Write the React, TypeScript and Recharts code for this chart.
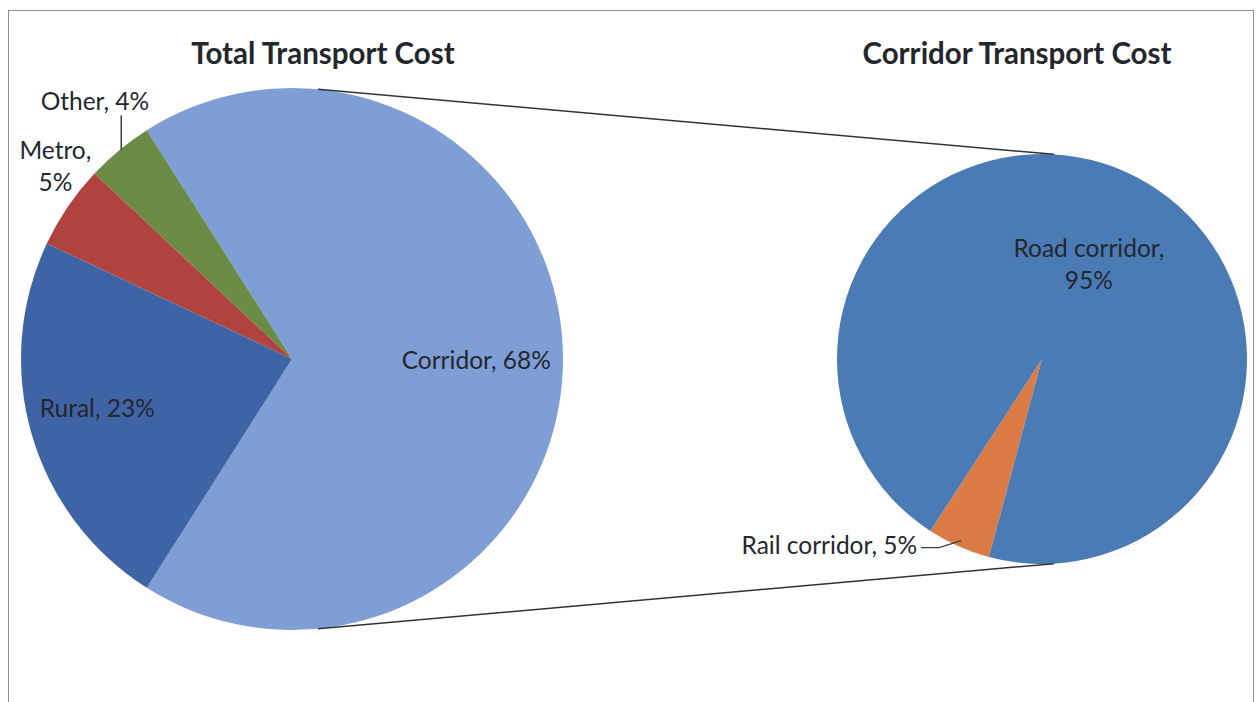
import React from 'react';
import { PieChart, Pie, Cell } from 'recharts';

// ---- data ----
const totalCategories = ['Corridor', 'Other', 'Metro', 'Rural'];
const totalValues = [68, 4, 5, 23];
const corridorCategories = ['Rail corridor', 'Road corridor'];
const corridorValues = [5, 95];
const titles = ['Total Transport Cost', 'Corridor Transport Cost'];

const totalColors = ['#7f9ed6', '#6b8c47', '#b1433e', '#3f64a6'];
const corridorColors = ['#da7a45', '#4a7bb5'];

const totalData = totalCategories.map((name, i) => ({ name, value: totalValues[i] }));
const corridorData = corridorCategories.map((name, i) => ({ name, value: corridorValues[i] }));

// ---- layout ----
const W = 1260;
const H = 702;
const P1 = { cx: 292, cy: 359, r: 271, start: 237.6 };
const P2 = { cx: 1042, cy: 359, r: 205, start: 237 };
const FONT = 'Lato, "Open Sans", sans-serif';
const LABEL_SIZE = 24.5;
const TITLE_SIZE = 29.5;
const RAD = Math.PI / 180;

const polar = (cx: number, cy: number, r: number, a: number) => ({
  x: cx + r * Math.cos(a * RAD),
  y: cy - r * Math.sin(a * RAD),
});

// label placement: radius factor and absolute angle (degrees) around pie centre
const totalLabelPos: Record<string, { rf: number; a: number; anchor: string; lines: number }> = {
  Corridor: { rf: 0.68, a: 0, anchor: 'middle', lines: 1 },
  Rural: { rf: 0.74, a: 193.8, anchor: 'middle', lines: 1 },
  Metro: { rf: 1.13, a: 140.6, anchor: 'middle', lines: 2 },
  Other: { rf: 1.2, a: 127.3, anchor: 'middle', lines: 1 },
};
const corridorLabelPos: Record<string, { rf: number; a: number; anchor: string; lines: number }> = {
  'Road corridor': { rf: 0.52, a: 63.9, anchor: 'middle', lines: 2 },
  'Rail corridor': { rf: 1.0, a: 237, anchor: 'end', lines: 1 },
};

const renderLabel = (pos: typeof totalLabelPos, pie: typeof P1) => (props: any) => {
  const { name, value, midAngle } = props;
  const cfg = pos[name];
  if (!cfg) return null;
  const p = polar(pie.cx, pie.cy, pie.r * cfg.rf, cfg.a);
  const color = '#23272e';
  const lines = cfg.lines === 2 ? [`${name},`, `${value}%`] : [`${name}, ${value}%`];
  const lh = 32;
  const extras: React.ReactNode[] = [];
  let tx = p.x;
  let ty = p.y;
  if (name === 'Other') {
    const e = polar(pie.cx, pie.cy, pie.r, midAngle);
    extras.push(
      <line key="l" x1={e.x + 2} y1={e.y} x2={e.x + 2} y2={p.y + 15} stroke="#3a3f47" strokeWidth={1.5} />
    );
  }
  if (name === 'Rail corridor') {
    const e = polar(pie.cx, pie.cy, pie.r * 0.97, midAngle);
    const bx = e.x - 22;
    const by = e.y + 7;
    extras.push(
      <polyline key="l" points={`${e.x},${e.y} ${bx},${by} ${bx - 18},${by}`} fill="none" stroke="#3a3f47" strokeWidth={1.3} />
    );
    tx = bx - 22;
    ty = by - 4;
  }
  return (
    <g>
      {extras}
      <text
        x={tx}
        y={ty - ((lines.length - 1) * lh) / 2}
        textAnchor={cfg.anchor as any}
        fill={color}
        fontFamily={FONT}
        fontSize={LABEL_SIZE}
        dominantBaseline="central"
      >
        {lines.map((t, i) => (
          <tspan key={i} x={tx} dy={i === 0 ? 0 : lh}>
            {t}
          </tspan>
        ))}
      </text>
    </g>
  );
};

const CONNECT_L = 84.5;
const CONNECT_R = 86.7;

export default function App() {
  const lt = polar(P1.cx, P1.cy, P1.r, CONNECT_L);
  const lb = polar(P1.cx, P1.cy, P1.r, -CONNECT_L);
  const rt = polar(P2.cx, P2.cy, P2.r, CONNECT_R);
  const rb = polar(P2.cx, P2.cy, P2.r, -CONNECT_R);
  return (
    <div style={{ position: 'absolute', left: 0, top: 0, width: W, height: H, background: '#fff', overflow: 'hidden' }}>
      <div
        style={{
          position: 'absolute',
          left: 8,
          top: 10,
          width: 1246,
          height: 720,
          border: '1.5px solid #8a8d93',
          boxSizing: 'border-box',
        }}
      />
      <div style={{ position: 'absolute', left: 0, top: 0 }}>
        <PieChart width={W} height={H} margin={{ top: 0, right: 0, bottom: 0, left: 0 }}>
          <Pie
            data={totalData}
            dataKey="value"
            nameKey="name"
            cx={P1.cx}
            cy={P1.cy}
            outerRadius={P1.r}
            startAngle={P1.start}
            endAngle={P1.start + 360}
            stroke="none"
            isAnimationActive={false}
            labelLine={false}
            label={renderLabel(totalLabelPos, P1)}
          >
            {totalData.map((d, i) => (
              <Cell key={d.name} fill={totalColors[i]} />
            ))}
          </Pie>
          <Pie
            data={corridorData}
            dataKey="value"
            nameKey="name"
            cx={P2.cx}
            cy={P2.cy}
            outerRadius={P2.r}
            startAngle={P2.start}
            endAngle={P2.start + 360}
            stroke="none"
            isAnimationActive={false}
            labelLine={false}
            label={renderLabel(corridorLabelPos, P2)}
          >
            {corridorData.map((d, i) => (
              <Cell key={d.name} fill={corridorColors[i]} />
            ))}
          </Pie>
        </PieChart>
      </div>
      <svg width={W} height={H} style={{ position: 'absolute', left: 0, top: 0, pointerEvents: 'none' }}>
        <line x1={lt.x} y1={lt.y} x2={rt.x} y2={rt.y} stroke="#2f3238" strokeWidth={1.5} />
        <line x1={lb.x} y1={lb.y} x2={rb.x} y2={rb.y} stroke="#2f3238" strokeWidth={1.5} />
        <text x={323} y={52} textAnchor="middle" dominantBaseline="central" fontFamily={FONT} fontWeight={700} fontSize={TITLE_SIZE} fill="#23262b">
          {titles[0]}
        </text>
        <text x={1017} y={52} textAnchor="middle" dominantBaseline="central" fontFamily={FONT} fontWeight={700} fontSize={TITLE_SIZE} fill="#23262b">
          {titles[1]}
        </text>
      </svg>
    </div>
  );
}
